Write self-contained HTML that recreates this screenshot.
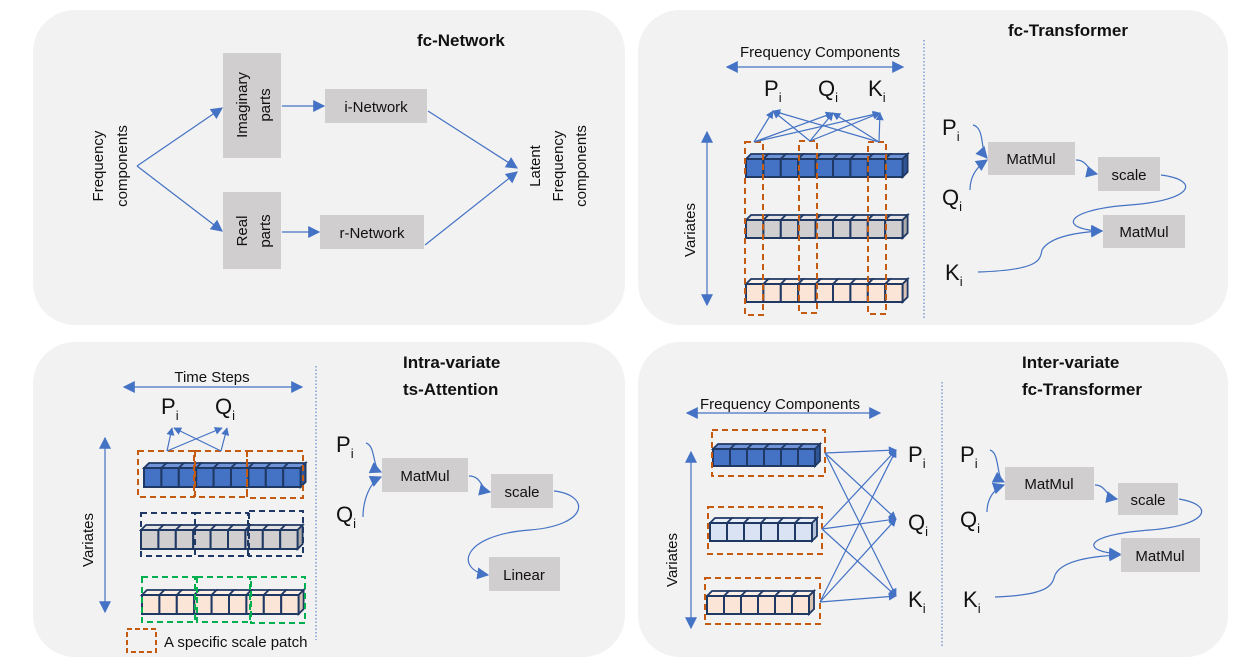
<!DOCTYPE html>
<html><head><meta charset="utf-8"><style>
html,body{margin:0;padding:0;background:#fff;}
svg{display:block;font-family:"Liberation Sans",sans-serif;}
.t{font-size:15px;fill:#111;}
.b{font-size:17px;font-weight:bold;fill:#111;}
.v{font-size:22px;fill:#111;}
.s{font-size:13px;}
.box{fill:#d0cece;}
.ln{stroke:#4472c4;stroke-width:1.2;fill:none;}
</style></head><body>
<svg id="s" width="1250" height="669" viewBox="0 0 1250 669" xmlns="http://www.w3.org/2000/svg">
<defs>
<marker id="a" viewBox="0 0 10 10" refX="9" refY="5" markerWidth="8" markerHeight="8" markerUnits="userSpaceOnUse" orient="auto-start-reverse"><path d="M0,0L10,5L0,10z" fill="#4472c4"/></marker>
<marker id="A" viewBox="0 0 10 10" refX="9" refY="5" markerWidth="12" markerHeight="12" markerUnits="userSpaceOnUse" orient="auto-start-reverse"><path d="M0,0L10,5L0,10z" fill="#4472c4"/></marker>
</defs>
<rect x="33" y="10" width="592" height="315" rx="42" fill="#f2f2f2"/>
<rect x="638" y="10" width="590" height="315" rx="42" fill="#f2f2f2"/>
<rect x="33" y="342" width="592" height="315" rx="42" fill="#f2f2f2"/>
<rect x="638" y="342" width="590" height="315" rx="42" fill="#f2f2f2"/>

<!-- fc-Network -->
<text class="b" x="417" y="46">fc-Network</text>
<text class="t" transform="translate(103,166) rotate(-90)" text-anchor="middle">Frequency</text>
<text class="t" transform="translate(127,166) rotate(-90)" text-anchor="middle">components</text>
<rect class="box" x="223" y="53" width="58" height="105"/>
<text class="t" transform="translate(247,105) rotate(-90)" text-anchor="middle">Imaginary</text>
<text class="t" transform="translate(270,105) rotate(-90)" text-anchor="middle">parts</text>
<rect class="box" x="223" y="192" width="58" height="77"/>
<text class="t" transform="translate(247,231) rotate(-90)" text-anchor="middle">Real</text>
<text class="t" transform="translate(270,231) rotate(-90)" text-anchor="middle">parts</text>
<rect class="box" x="325" y="89" width="102" height="34"/>
<text class="t" x="376" y="112" text-anchor="middle">i-Network</text>
<rect class="box" x="320" y="215" width="104" height="34"/>
<text class="t" x="372" y="238" text-anchor="middle">r-Network</text>
<text class="t" transform="translate(540,166) rotate(-90)" text-anchor="middle">Latent</text>
<text class="t" transform="translate(563,166) rotate(-90)" text-anchor="middle">Frequency</text>
<text class="t" transform="translate(586,166) rotate(-90)" text-anchor="middle">components</text>
<path class="ln" marker-end="url(#A)" d="M137,166L222,108"/>
<path class="ln" marker-end="url(#A)" d="M137,166L222,231"/>
<path class="ln" marker-end="url(#A)" d="M282,106L324,106"/>
<path class="ln" marker-end="url(#A)" d="M282,232L319,232"/>
<path class="ln" marker-end="url(#A)" d="M428,111L517,168"/>
<path class="ln" marker-end="url(#A)" d="M425,245L517,172"/>

<!-- fc-Transformer -->
<text class="b" x="1008" y="36">fc-Transformer</text>
<text class="t" x="820" y="57" text-anchor="middle">Frequency Components</text>
<path class="ln" marker-start="url(#A)" marker-end="url(#A)" d="M727,67L903,67"/>
<text class="v" x="764" y="96">P<tspan class="s" dy="6">i</tspan></text>
<text class="v" x="818" y="96">Q<tspan class="s" dy="6">i</tspan></text>
<text class="v" x="868" y="96">K<tspan class="s" dy="6">i</tspan></text>
<text class="t" transform="translate(695,230) rotate(-90)" text-anchor="middle">Variates</text>
<path class="ln" marker-start="url(#A)" marker-end="url(#A)" d="M707,132L707,305"/>
<g id="tr"></g>
<path d="M924,40L924,318" stroke="#4472c4" stroke-width="1" stroke-dasharray="1.5,2" fill="none"/>
<text class="v" x="942" y="135">P<tspan class="s" dy="6">i</tspan></text>
<text class="v" x="942" y="205">Q<tspan class="s" dy="6">i</tspan></text>
<text class="v" x="945" y="280">K<tspan class="s" dy="6">i</tspan></text>
<rect class="box" x="988" y="142" width="87" height="33"/>
<text class="t" x="1031" y="164" text-anchor="middle">MatMul</text>
<rect class="box" x="1098" y="157" width="62" height="34"/>
<text class="t" x="1129" y="180" text-anchor="middle">scale</text>
<rect class="box" x="1103" y="215" width="82" height="33"/>
<text class="t" x="1144" y="237" text-anchor="middle">MatMul</text>
<path class="ln" marker-end="url(#A)" d="M973,125C985,128 980,150 987,158"/>
<path class="ln" marker-end="url(#A)" d="M970,190C970,175 978,166 987,160"/>
<path class="ln" marker-end="url(#A)" d="M1076,160C1088,160 1088,172 1097,174"/>
<path class="ln" marker-end="url(#A)" d="M1161,175C1200,180 1195,200 1130,205C1060,210 1060,230 1102,231"/>
<path class="ln" marker-end="url(#A)" d="M978,272C1040,270 1040,260 1042,250C1050,236 1080,232 1102,231"/>

<!-- Intra-variate -->
<text class="b" x="403" y="368">Intra-variate</text>
<text class="b" x="403" y="395">ts-Attention</text>
<text class="t" x="212" y="382" text-anchor="middle">Time Steps</text>
<path class="ln" marker-start="url(#A)" marker-end="url(#A)" d="M124,387L302,387"/>
<text class="v" x="161" y="414">P<tspan class="s" dy="6">i</tspan></text>
<text class="v" x="215" y="414">Q<tspan class="s" dy="6">i</tspan></text>
<text class="t" transform="translate(93,540) rotate(-90)" text-anchor="middle">Variates</text>
<path class="ln" marker-start="url(#A)" marker-end="url(#A)" d="M105,438L105,612"/>
<g id="bl"></g>
<rect x="127" y="629" width="29" height="23" fill="none" stroke="#c55a11" stroke-width="2" stroke-dasharray="5,3"/>
<text class="t" x="164" y="647">A specific scale patch</text>
<path d="M316,366L316,640" stroke="#4472c4" stroke-width="1" stroke-dasharray="1.5,2" fill="none"/>
<text class="v" x="336" y="452">P<tspan class="s" dy="6">i</tspan></text>
<text class="v" x="336" y="522">Q<tspan class="s" dy="6">i</tspan></text>
<rect class="box" x="382" y="458" width="86" height="34"/>
<text class="t" x="425" y="481" text-anchor="middle">MatMul</text>
<rect class="box" x="491" y="474" width="62" height="34"/>
<text class="t" x="522" y="497" text-anchor="middle">scale</text>
<rect class="box" x="489" y="557" width="71" height="34"/>
<text class="t" x="524" y="580" text-anchor="middle">Linear</text>
<path class="ln" marker-end="url(#A)" d="M366,443C376,446 372,468 381,472"/>
<path class="ln" marker-end="url(#A)" d="M363,517C363,500 370,482 381,477"/>
<path class="ln" marker-end="url(#A)" d="M469,476C482,476 481,490 490,492"/>
<path class="ln" marker-end="url(#A)" d="M554,491C590,495 590,525 530,530C460,535 455,570 488,575"/>

<!-- Inter-variate -->
<text class="b" x="1022" y="368">Inter-variate</text>
<text class="b" x="1022" y="395">fc-Transformer</text>
<text class="t" x="780" y="409" text-anchor="middle">Frequency Components</text>
<path class="ln" marker-start="url(#A)" marker-end="url(#A)" d="M687,413L880,413"/>
<text class="t" transform="translate(677,560) rotate(-90)" text-anchor="middle">Variates</text>
<path class="ln" marker-start="url(#A)" marker-end="url(#A)" d="M691,452L691,628"/>
<g id="br"></g>
<text class="v" x="908" y="462">P<tspan class="s" dy="6">i</tspan></text>
<text class="v" x="908" y="530">Q<tspan class="s" dy="6">i</tspan></text>
<text class="v" x="908" y="607">K<tspan class="s" dy="6">i</tspan></text>
<path d="M942,382L942,648" stroke="#4472c4" stroke-width="1" stroke-dasharray="1.5,2" fill="none"/>
<text class="v" x="960" y="462">P<tspan class="s" dy="6">i</tspan></text>
<text class="v" x="960" y="527">Q<tspan class="s" dy="6">i</tspan></text>
<text class="v" x="963" y="607">K<tspan class="s" dy="6">i</tspan></text>
<rect class="box" x="1005" y="467" width="89" height="33"/>
<text class="t" x="1049" y="489" text-anchor="middle">MatMul</text>
<rect class="box" x="1118" y="483" width="60" height="32"/>
<text class="t" x="1148" y="505" text-anchor="middle">scale</text>
<rect class="box" x="1121" y="538" width="79" height="34"/>
<text class="t" x="1160" y="561" text-anchor="middle">MatMul</text>
<path class="ln" marker-end="url(#A)" d="M990,450C1000,453 996,478 1004,482"/>
<path class="ln" marker-end="url(#A)" d="M987,512C987,498 995,488 1004,485"/>
<path class="ln" marker-end="url(#A)" d="M1095,485C1106,485 1106,497 1117,499"/>
<path class="ln" marker-end="url(#A)" d="M1179,499C1215,505 1210,525 1150,530C1080,535 1082,552 1120,554"/>
<path class="ln" marker-end="url(#A)" d="M995,597C1050,595 1052,585 1055,575C1062,560 1095,556 1120,555"/>
</svg>
<script>
var NS="http://www.w3.org/2000/svg";
function el(g,n,a){var e=document.createElementNS(NS,n);for(var k in a)e.setAttribute(k,a[k]);g.appendChild(e);return e;}
function lighten(c){return c;}
function row(g,x,y,n,w,h,fill,top,side){
  var d=5;
  for(var i=0;i<n;i++){
    var cx=x+i*w;
    el(g,"path",{d:"M"+cx+","+y+"l"+d+","+(-d)+"h"+w+"l"+(-d)+","+d+"z",fill:top,stroke:"#1f3864","stroke-width":1.8});
  }
  el(g,"path",{d:"M"+(x+n*w)+","+y+"l"+d+","+(-d)+"v"+h+"l"+(-d)+","+d+"z",fill:side,stroke:"#1f3864","stroke-width":1.8});
  for(var i=0;i<n;i++){
    el(g,"rect",{x:x+i*w,y:y,width:w,height:h,fill:fill,stroke:"#1f3864","stroke-width":2});
  }
}
function dbox(g,x,y,w,h,c){el(g,"rect",{x:x,y:y,width:w,height:h,fill:"none",stroke:c,"stroke-width":2,"stroke-dasharray":"6,4"});}
function ln(g,x1,y1,x2,y2){el(g,"path",{d:"M"+x1+","+y1+"L"+x2+","+y2,"class":"ln","marker-end":"url(#a)"});}
var BL=["#4472c4","#6f93d6","#2f5597"],GR=["#d0cece","#e3e1e1","#aeabab"],PE=["#fbe5d6","#fdf0e7","#d9c3b4"],LB=["#dae3f3","#e9eff9","#b4c2dc"];
// top right
var g=document.getElementById("tr");
row(g,746,159,9,17.4,18,BL[0],BL[1],BL[2]);
row(g,746,220,9,17.4,18,GR[0],GR[1],GR[2]);
row(g,746,284,9,17.4,18,PE[0],PE[1],PE[2]);
dbox(g,745,142,18,173,"#c55a11");dbox(g,799,141,18,172,"#c55a11");dbox(g,868,142,18,172,"#c55a11");
[[754,142],[810,141],[879,142]].forEach(function(s){[[773,111],[833,113],[880,113]].forEach(function(t){ln(g,s[0],s[1],t[0],t[1]);});});
// bottom left
g=document.getElementById("bl");
row(g,144,468,9,17.4,19,BL[0],BL[1],BL[2]);
row(g,141,530,9,17.4,19,GR[0],GR[1],GR[2]);
row(g,142,595,9,17.4,19,PE[0],PE[1],PE[2]);
dbox(g,138,451,56,46,"#c55a11");dbox(g,195,451,52,46,"#c55a11");dbox(g,247,451,56,47,"#c55a11");
dbox(g,141,513,54,43,"#1f3864");dbox(g,195,513,53,43,"#1f3864");dbox(g,249,511,54,45,"#1f3864");
dbox(g,142,577,53,45,"#00b050");dbox(g,197,577,53,45,"#00b050");dbox(g,251,577,54,46,"#00b050");
ln(g,167,451,172,428);ln(g,167,451,222,428);ln(g,221,451,227,428);ln(g,221,451,174,428);
// bottom right
g=document.getElementById("br");
row(g,713,449,6,17,17,BL[0],BL[1],BL[2]);
row(g,710,523,6,17,18,LB[0],LB[1],LB[2]);
row(g,707,596,6,17,18,PE[0],PE[1],PE[2]);
dbox(g,712,430,113,46,"#c55a11");dbox(g,708,507,114,47,"#c55a11");dbox(g,705,578,115,46,"#c55a11");
[[825,453],[822,529],[820,602]].forEach(function(s){[[896,450],[896,519],[896,596]].forEach(function(t){ln(g,s[0],s[1],t[0],t[1]);});});
</script>
</body></html>
